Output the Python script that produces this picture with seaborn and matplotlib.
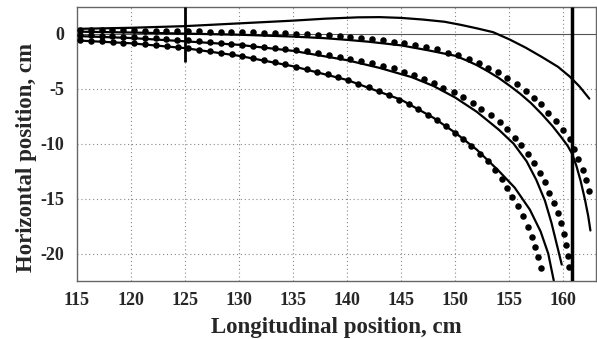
import numpy as np
import pandas as pd
import seaborn as sns
import matplotlib
matplotlib.use("Agg")
import matplotlib.pyplot as plt

# solid curves (computed trajectories)
s1_x = [115, 120, 125, 130, 135, 138, 141, 143, 145, 147, 149, 150.5, 152, 153.5, 155, 156.5, 158, 159.5, 160.6, 161.5, 162.4]
s1_y = [0.45, 0.55, 0.7, 0.95, 1.2, 1.38, 1.5, 1.52, 1.45, 1.3, 1.1, 0.82, 0.5, 0.15, -0.5, -1.25, -2.1, -3.0, -3.9, -4.8, -5.9]

s2_x = [115, 120, 125, 130, 135, 138, 140, 142, 145, 147.5, 150, 151, 152, 153, 154, 155, 156, 157, 158, 159,
        159.8, 160.4, 160.8, 161.2, 161.6, 162.0, 162.3, 162.5]
s2_y = [0.2, 0.12, 0.02, -0.08, -0.25, -0.4, -0.55, -0.72, -1.05, -1.5, -2.0, -2.4, -2.85, -3.4, -4.0, -4.7, -5.45,
        -6.3, -7.3, -8.4, -9.4, -10.2, -10.9, -12.0, -13.4, -15.1, -16.6, -17.9]

s3_x = [115, 120, 125, 130, 135, 140, 143, 146, 148, 150, 152, 154, 155.4, 156.6, 157.5, 158.3, 158.9, 159.4, 159.85]
s3_y = [-0.2, -0.38, -0.68, -1.0, -1.55, -2.4, -3.1, -3.95, -4.75, -5.8, -7.1, -8.7, -10.0, -11.6, -13.3, -15.2,
        -17.2, -19.2, -21.0]

s4_x = [115, 120, 125, 130, 135, 140, 145, 148, 150, 152, 154, 155.5, 156.9, 157.9, 158.6, 159.1, 159.3]
s4_y = [-0.6, -0.86, -1.3, -2.0, -2.95, -4.2, -6.0, -7.65, -9.0, -10.55, -12.45, -14.0, -16.0, -18.0, -20.0, -22.4,
        -23.5]

# measured points
d1_x = [115.3, 116.3, 117.3, 118.3, 119.3, 120.3, 121.3, 122.3, 123.3, 124.3, 125.3, 126.3, 127.3, 128.3, 129.3,
        130.3, 131.3, 132.3, 133.3, 134.3, 135.3, 136.3, 137.3, 138.3, 139.3, 140.3, 141.3, 142.3, 143.3, 144.3,
        145.3, 146.3, 147.3, 148.3, 149.3, 150.3, 151.3, 152.2, 153.0, 154.0, 154.8, 155.7, 156.5, 157.3, 157.9,
        158.6, 159.3, 160.0, 160.6, 160.97, 161.36, 161.77, 162.07, 162.35]
d1_y = [0.36, 0.35, 0.34, 0.33, 0.32, 0.31, 0.30, 0.29, 0.27, 0.26, 0.25, 0.23, 0.21, 0.19, 0.17,
        0.15, 0.13, 0.11, 0.08, 0.05, 0.02, -0.02, -0.07, -0.12, -0.18, -0.26, -0.35, -0.45, -0.56, -0.7,
        -0.85, -1.0, -1.18, -1.39, -1.7, -1.94, -2.3, -2.7, -3.09, -3.5, -4.0, -4.55, -5.2, -5.82, -6.42,
        -7.18, -7.94, -8.75, -9.6, -10.5, -11.4, -12.4, -13.3, -14.27]

d2_x = [115.3, 116.3, 117.3, 118.3, 119.3, 120.3, 121.3, 122.3, 123.3, 124.3, 125.3, 126.3, 127.3, 128.3, 129.3,
        130.3, 131.3, 132.3, 133.3, 134.3, 135.3, 136.3, 137.3, 138.3, 139.3, 140.3, 141.3, 142.3, 143.3, 144.3,
        145.25, 146.2, 147.1, 148.0, 148.9, 149.9, 150.7, 151.6, 152.4, 153.3, 154.1, 154.8, 155.5, 156.1, 156.7,
        157.3, 157.8, 158.3, 158.7, 159.1, 159.5, 159.75, 160.05, 160.2, 160.4, 160.5]
d2_y = [-0.12, -0.15, -0.19, -0.23, -0.27, -0.31, -0.36, -0.41, -0.47, -0.53, -0.6, -0.67, -0.74, -0.82, -0.9,
        -0.98, -1.07, -1.16, -1.25, -1.35, -1.45, -1.59, -1.74, -1.9, -2.08, -2.27, -2.47, -2.68, -2.9, -3.15,
        -3.45, -3.75, -4.1, -4.5, -4.9, -5.33, -5.78, -6.27, -6.82, -7.42, -8.0, -8.7, -9.45, -10.15, -10.95,
        -11.8, -12.7, -13.5, -14.45, -15.4, -16.3, -17.2, -18.2, -19.2, -20.2, -21.2]

d3_x = [115.32, 116.32, 117.32, 118.32, 119.32, 120.32, 121.32, 122.32, 123.32, 124.32, 125.32, 126.32, 127.32,
        128.32, 129.32, 130.32, 131.32, 132.31, 133.3, 134.29, 135.27, 136.25, 137.22, 138.2, 139.15, 140.1,
        141.05, 142.0, 142.95, 143.88, 144.8, 145.7, 146.58, 147.45, 148.3, 149.15, 149.95, 150.7, 151.5, 152.25,
        153.0, 153.7, 154.3, 154.75, 155.25, 155.8, 156.3, 156.7, 157.1, 157.4, 157.7, 157.95]
d3_y = [-0.58, -0.63, -0.69, -0.75, -0.81, -0.88, -0.95, -1.03, -1.12, -1.22, -1.33, -1.45, -1.58,
        -1.72, -1.87, -2.03, -2.2, -2.38, -2.57, -2.77, -2.98, -3.2, -3.43, -3.68, -3.95, -4.24,
        -4.55, -4.88, -5.23, -5.6, -6.0, -6.42, -6.87, -7.35, -7.85, -8.4, -9.0, -9.6, -10.2, -10.9,
        -11.6, -12.4, -13.2, -14.05, -14.85, -15.7, -16.6, -17.55, -18.5, -19.4, -20.35, -21.3]

# vertical marker lines: (x, ymin, ymax)
mark_x = [125, 160.8]
mark_ymin = [-2.6, -22.5]
mark_ymax = [2.4, 2.4]

x_ticks = [115, 120, 125, 130, 135, 140, 145, 150, 155, 160]
y_ticks = [0, -5, -10, -15, -20]

sns.set_style("white")
plt.rcParams['font.family'] = ['Liberation Serif', 'DejaVu Serif']
plt.rcParams['font.weight'] = 'bold'
plt.rcParams['axes.unicode_minus'] = False

fig = plt.figure(figsize=(5.97, 3.39), dpi=100)
ax = fig.add_axes([0.1285, 0.171, 0.8695, 0.807])

for xv in x_ticks[1:]:
    ax.axvline(xv, color='#888888', lw=0.8, ls=(0, (1, 2.5)), zorder=0)
for yv in y_ticks[1:]:
    ax.axhline(yv, color='#888888', lw=0.8, ls=(0, (1, 2.5)), zorder=0)
ax.axhline(0, color='#555555', lw=0.8, zorder=1)

for xs, ys in [(s1_x, s1_y), (s2_x, s2_y), (s3_x, s3_y), (s4_x, s4_y)]:
    sns.lineplot(x=xs, y=ys, ax=ax, color='black', lw=1.6, sort=False, estimator=None)

for xs, ys in [(d1_x, d1_y), (d2_x, d2_y), (d3_x, d3_y)]:
    sns.scatterplot(x=xs, y=ys, ax=ax, color='black', s=22, linewidth=0, zorder=3)

ax.vlines(mark_x[0], mark_ymin[0], mark_ymax[0], color='black', lw=2, zorder=4)
ax.vlines(mark_x[1], mark_ymin[1], mark_ymax[1], color='black', lw=2.5, zorder=4)

ax.set_xlim(115, 163)
ax.set_ylim(-22.5, 2.4)
ax.set_xticks(x_ticks)
ax.set_yticks(y_ticks)
ax.tick_params(direction='in', length=3, width=0.8, labelsize=13, color='#555555')
ax.tick_params(axis='x', pad=8)
ax.tick_params(axis='y', pad=9)
for lab in ax.get_xticklabels() + ax.get_yticklabels():
    lab.set_fontweight('bold')
for sp in ax.spines.values():
    sp.set_color('#666666')
    sp.set_linewidth(1.0)

ax.set_xlabel('Longitudinal position, cm', fontsize=16.5, fontweight='bold', labelpad=6)
ax.set_ylabel('Horizontal position, cm', fontsize=16.5, fontweight='bold')
ax.yaxis.set_label_coords(-0.076, 0.45)

fig.savefig('out.png', dpi=100)
